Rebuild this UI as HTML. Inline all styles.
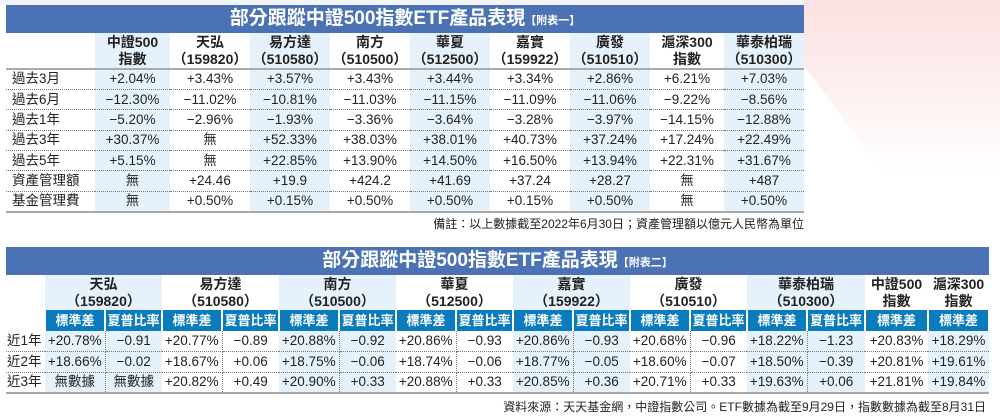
<!DOCTYPE html>
<html><head><meta charset="utf-8"><style>
*{margin:0;padding:0;box-sizing:border-box}
body{width:1000px;height:416px;position:relative;background:#fff;font-family:"Liberation Sans","Noto Sans CJK TC",sans-serif;color:#222;overflow:hidden}
.bar{position:absolute;background:#4a72b5;color:#fff;font-weight:bold;font-size:19px;text-align:center;line-height:28px}
.bar small{font-size:11px;font-weight:bold}
table{position:absolute;border-collapse:collapse;table-layout:fixed}
td{text-align:center;font-size:13.5px;line-height:16px;white-space:nowrap;padding:0}
td.l{text-align:left;padding-left:6px}
.h td{font-weight:bold;font-size:14px;line-height:17px;vertical-align:middle}
.b{background:#e5f2fc}
#t1 tr.r td{height:20.4px;border-bottom:1px dotted #777}
#t1 tr.last td{border-bottom:2px solid #aaa}
#t1 tr.h td{height:36px;border-bottom:2px solid #aaa}
#t2 tr.h td{height:35px}
#t2 tr.s td{height:21px;background:#0a7bbd;color:#fff;font-weight:bold;font-size:13px;border-right:2px solid #fff}
#t2 tr.r td{height:20.7px;border-bottom:1px dotted #777;font-size:13.5px}
#t2 td.l{padding-left:1px;font-size:13px}
#t2 tr.last td{border-bottom:2px solid #aaa}
#t2 td.d{border-right:1px dotted #777}
.note{position:absolute;font-size:12px;color:#222}
</style></head><body>
<svg style="position:absolute;left:0;top:0" width="1000" height="416">
<defs><linearGradient id="g" x1="0" y1="0" x2="0" y2="1"><stop offset="0" stop-color="#fbe1e1"/><stop offset="1" stop-color="#fff"/></linearGradient></defs>
<polygon points="804,0 1000,0 1000,175 885,175 804,66" fill="url(#g)"/>
<rect x="0" y="0" width="804" height="5" fill="#f2f4f8"/>
</svg>
<div class="bar" style="left:6px;top:5px;width:798px;height:28px">部分跟蹤中證500指數ETF產品表現<small>【附表一】</small></div>
<table id="t1" style="left:6px;top:33px;width:798px">
<colgroup><col style="width:89px"><col style="width:75px"><col style="width:80px"><col style="width:80px"><col style="width:80px"><col style="width:80px"><col style="width:80px"><col style="width:80px"><col style="width:74px"><col style="width:80px"></colgroup>
<tr class="h"><td></td><td class="b">中證500<br>指數</td><td>天弘<br>（159820）</td><td class="b">易方達<br>（510580）</td><td>南方<br>（510500）</td><td class="b">華夏<br>（512500）</td><td>嘉實<br>（159922）</td><td class="b">廣發<br>（510510）</td><td>滬深300<br>指數</td><td class="b">華泰柏瑞<br>（510300）</td></tr>
<tr class="r"><td class="l">過去3月</td><td class="b">+2.04%</td><td>+3.43%</td><td class="b">+3.57%</td><td>+3.43%</td><td class="b">+3.44%</td><td>+3.34%</td><td class="b">+2.86%</td><td>+6.21%</td><td class="b">+7.03%</td></tr>
<tr class="r"><td class="l">過去6月</td><td class="b">−12.30%</td><td>−11.02%</td><td class="b">−10.81%</td><td>−11.03%</td><td class="b">−11.15%</td><td>−11.09%</td><td class="b">−11.06%</td><td>−9.22%</td><td class="b">−8.56%</td></tr>
<tr class="r"><td class="l">過去1年</td><td class="b">−5.20%</td><td>−2.96%</td><td class="b">−1.93%</td><td>−3.36%</td><td class="b">−3.64%</td><td>−3.28%</td><td class="b">−3.97%</td><td>−14.15%</td><td class="b">−12.88%</td></tr>
<tr class="r"><td class="l">過去3年</td><td class="b">+30.37%</td><td>無</td><td class="b">+52.33%</td><td>+38.03%</td><td class="b">+38.01%</td><td>+40.73%</td><td class="b">+37.24%</td><td>+17.24%</td><td class="b">+22.49%</td></tr>
<tr class="r"><td class="l">過去5年</td><td class="b">+5.15%</td><td>無</td><td class="b">+22.85%</td><td>+13.90%</td><td class="b">+14.50%</td><td>+16.50%</td><td class="b">+13.94%</td><td>+22.31%</td><td class="b">+31.67%</td></tr>
<tr class="r"><td class="l">資產管理額</td><td class="b">無</td><td>+24.46</td><td class="b">+19.9</td><td>+424.2</td><td class="b">+41.69</td><td>+37.24</td><td class="b">+28.27</td><td>無</td><td class="b">+487</td></tr>
<tr class="r last"><td class="l">基金管理費</td><td class="b">無</td><td>+0.50%</td><td class="b">+0.15%</td><td>+0.50%</td><td class="b">+0.50%</td><td>+0.15%</td><td class="b">+0.50%</td><td>無</td><td class="b">+0.50%</td></tr>
</table>
<div class="note" style="right:196px;top:215px">備註：以上數據截至2022年6月30日；資產管理額以億元人民幣為單位</div>

<div class="bar" style="left:6px;top:247px;width:983px;height:28px">部分跟蹤中證500指數ETF產品表現<small>【附表二】</small></div>
<table id="t2" style="left:6px;top:275px;width:983px">
<colgroup><col style="width:39px"><col style="width:60px"><col style="width:57px"><col style="width:60px"><col style="width:57px"><col style="width:60px"><col style="width:57px"><col style="width:60px"><col style="width:57px"><col style="width:60px"><col style="width:57px"><col style="width:60px"><col style="width:57px"><col style="width:60px"><col style="width:58px"><col style="width:63px"><col style="width:61px"></colgroup>
<tr class="h"><td></td><td colspan="2" class="b">天弘<br>（159820）</td><td colspan="2">易方達<br>（510580）</td><td colspan="2" class="b">南方<br>（510500）</td><td colspan="2">華夏<br>（512500）</td><td colspan="2" class="b">嘉實<br>（159922）</td><td colspan="2">廣發<br>（510510）</td><td colspan="2" class="b">華泰柏瑞<br>（510300）</td><td>中證500<br>指數</td><td>滬深300<br>指數</td></tr>
<tr class="s"><td style="background:#fff"></td><td>標準差</td><td>夏普比率</td><td>標準差</td><td>夏普比率</td><td>標準差</td><td>夏普比率</td><td>標準差</td><td>夏普比率</td><td>標準差</td><td>夏普比率</td><td>標準差</td><td>夏普比率</td><td>標準差</td><td>夏普比率</td><td>標準差</td><td>標準差</td></tr>
<tr class="r"><td class="l">近1年</td><td class="b d">+20.78%</td><td class="b">−0.91</td><td class="d">+20.77%</td><td>−0.89</td><td class="b d">+20.88%</td><td class="b">−0.92</td><td class="d">+20.86%</td><td>−0.93</td><td class="b d">+20.86%</td><td class="b">−0.93</td><td class="d">+20.68%</td><td>−0.96</td><td class="b d">+18.22%</td><td class="b">−1.23</td><td>+20.83%</td><td class="b">+18.29%</td></tr>
<tr class="r"><td class="l">近2年</td><td class="b d">+18.66%</td><td class="b">−0.02</td><td class="d">+18.67%</td><td>+0.06</td><td class="b d">+18.75%</td><td class="b">−0.06</td><td class="d">+18.74%</td><td>−0.06</td><td class="b d">+18.77%</td><td class="b">−0.05</td><td class="d">+18.60%</td><td>−0.07</td><td class="b d">+18.50%</td><td class="b">−0.39</td><td>+20.81%</td><td class="b">+19.61%</td></tr>
<tr class="r last"><td class="l">近3年</td><td class="b d">無數據</td><td class="b">無數據</td><td class="d">+20.82%</td><td>+0.49</td><td class="b d">+20.90%</td><td class="b">+0.33</td><td class="d">+20.88%</td><td>+0.33</td><td class="b d">+20.85%</td><td class="b">+0.36</td><td class="d">+20.71%</td><td>+0.33</td><td class="b d">+19.63%</td><td class="b">+0.06</td><td>+21.81%</td><td class="b">+19.84%</td></tr>
</table>
<div class="note" style="right:14px;top:398px">資料來源：天天基金網，中證指數公司。ETF數據為截至9月29日，指數數據為截至8月31日</div>
</body></html>
